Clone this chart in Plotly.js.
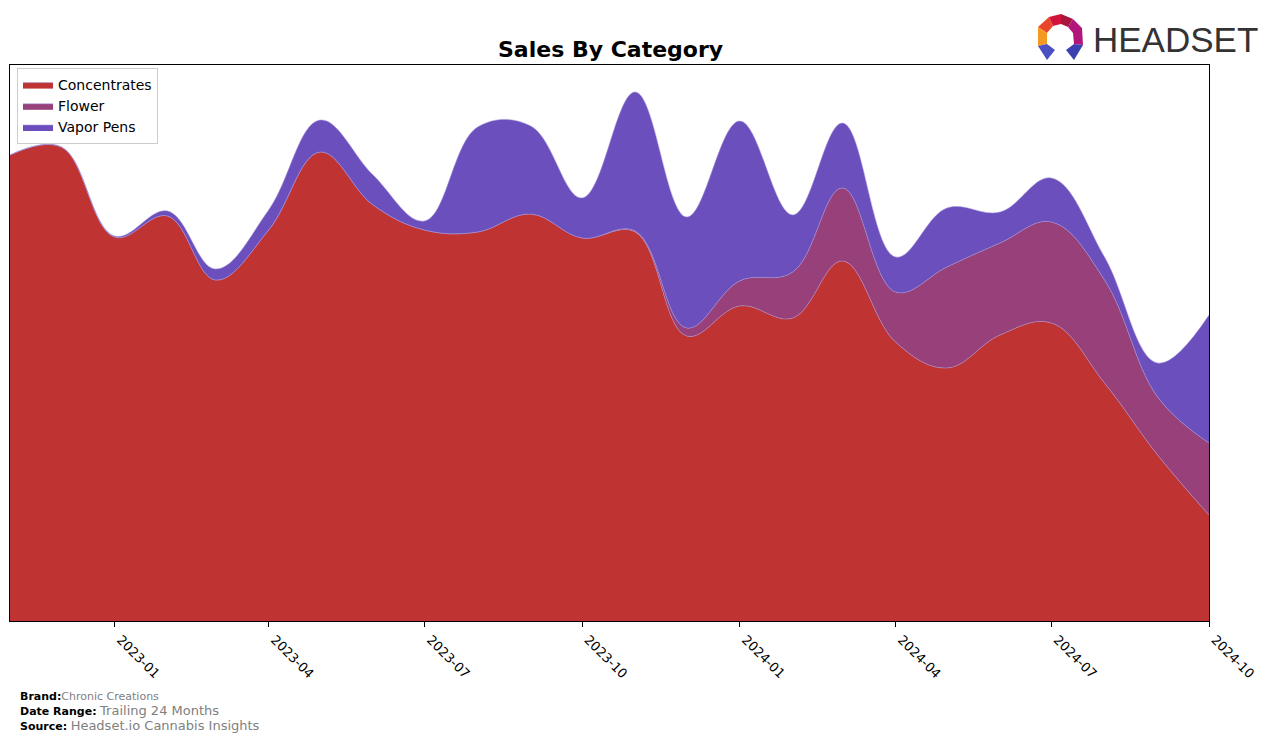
<!DOCTYPE html>
<html>
<head>
<meta charset="utf-8">
<script src="https://cdn.plot.ly/plotly-3.0.1.min.js"></script>
<style>html,body{margin:0;padding:0;background:#fff;}#chart{width:1276px;height:741px;}</style>
</head>
<body>
<div id="chart"></div>
<script>
// ---- data (arbitrary units) ----
const months = ["2022-11-01","2022-12-01","2023-01-01","2023-02-01","2023-03-01","2023-04-01",
  "2023-05-01","2023-06-01","2023-07-01","2023-08-01","2023-09-01","2023-10-01",
  "2023-11-01","2023-12-01","2024-01-01","2024-02-01","2024-03-01","2024-04-01",
  "2024-05-01","2024-06-01","2024-07-01","2024-08-01","2024-09-01","2024-10-01"];
const concentrates = [466,474,384,405,341,391,469,416,391,389,407,383,389,285,315,303,360,279,253,286,298,238,166,106];
const flower       = [0,0,0,0,0,0,0,0,0,0,0,0,1,8,25,46,73,50,101,92,101,103,58,72];
const vaporPens    = [0,0,1,5,11,20,32,30,9,105,88,40,139,111,160,57,65,35,59,31,44,23,34,128];
const tickVals = ["2023-01-01","2023-04-01","2023-07-01","2023-10-01","2024-01-01","2024-04-01","2024-07-01","2024-10-01"];
const tickText = ["2023-01","2023-04","2023-07","2023-10","2024-01","2024-04","2024-07","2024-10"];

// ---- layout helpers ----
const W = 1276, H = 741, L = 10, R = 1209, T = 65, B = 621;
const px = x => (x - L) / (R - L);
const py = y => (B - y) / (B - T);
function poly(points, color) {
  const d = points.map((p, i) => (i ? 'L' : 'M') + px(p[0]) + ',' + py(p[1])).join(' ') + ' Z';
  return {type: 'path', xref: 'paper', yref: 'paper', path: d, fillcolor: color, line: {width: 0}, layer: 'above'};
}

const colors = {c: '#c03333', f: '#974079', v: '#6a4fbd'};
const edge = {width: 0.6, color: 'rgba(170,150,220,0.9)', shape: 'spline', smoothing: 1.1};

const traces = [
  {x: months, y: concentrates, name: 'Concentrates', type: 'scatter', mode: 'lines', stackgroup: 'one',
   line: edge, fillcolor: colors.c},
  {x: months, y: flower, name: 'Flower', type: 'scatter', mode: 'lines', stackgroup: 'one',
   line: edge, fillcolor: colors.f},
  {x: months, y: vaporPens, name: 'Vapor Pens', type: 'scatter', mode: 'lines', stackgroup: 'one',
   line: edge, fillcolor: colors.v}
];

// logo icon
const shapes = [
  poly([[1038,27],[1049,17],[1053,26],[1047,33]], '#e8472a'),
  poly([[1038,27],[1047,33],[1047,44],[1038,46]], '#f39a22'),
  poly([[1049,17],[1061,14],[1061,24],[1053,26]], '#d2143a'),
  poly([[1061,14],[1073,19],[1068,27],[1061,24]], '#a8173f'),
  poly([[1073,19],[1082,28],[1083,45],[1074,44],[1073,33],[1068,27]], '#b3167b'),
  poly([[1038,46],[1047,44],[1055,50],[1047,60]], '#4a4fc4'),
  poly([[1074,44],[1083,45],[1074,60],[1066,50]], '#3b3fb0')
];

const grey = '#808080';
const annotations = [
  {text: '<b>Sales By Category</b>', xref: 'paper', yref: 'paper', x: px(610), y: py(50), xanchor: 'center', yanchor: 'middle',
   showarrow: false, font: {family: 'DejaVu Sans', size: 22, color: '#000'}},
  {text: 'HEADSET', xref: 'paper', yref: 'paper', x: px(1091), y: py(39), xanchor: 'left', yanchor: 'middle',
   showarrow: false, font: {family: 'Liberation Sans', size: 35, color: '#333333'}},
  {text: '<b>Brand:</b><span style="color:' + grey + ';font-size:11px">Chronic Creations</span>', xref: 'paper', yref: 'paper',
   x: px(18), y: py(696), xanchor: 'left', yanchor: 'middle', showarrow: false, font: {family: 'DejaVu Sans', size: 11, color: '#000'}},
  {text: '<b>Date Range:</b> <span style="color:' + grey + ';font-size:13px">Trailing 24 Months</span>', xref: 'paper', yref: 'paper',
   x: px(18), y: py(711), xanchor: 'left', yanchor: 'middle', showarrow: false, font: {family: 'DejaVu Sans', size: 11, color: '#000'}},
  {text: '<b>Source:</b> <span style="color:' + grey + ';font-size:13px">Headset.io Cannabis Insights</span>', xref: 'paper', yref: 'paper',
   x: px(18), y: py(725), xanchor: 'left', yanchor: 'middle', showarrow: false, font: {family: 'DejaVu Sans', size: 11, color: '#000'}}
];

const layout = {
  width: W, height: H,
  margin: {l: L, r: W - R, t: T, b: H - B, pad: 0},
  paper_bgcolor: '#fff', plot_bgcolor: '#fff',
  showlegend: true,
  legend: {x: px(17), y: py(68), xanchor: 'left', yanchor: 'top', traceorder: 'normal',
    bgcolor: 'rgba(255,255,255,0.85)', bordercolor: '#cccccc', borderwidth: 1,
    font: {family: 'DejaVu Sans', size: 14, color: '#000'}, itemwidth: 30, tracegroupgap: 0},
  xaxis: {type: 'date', range: [months[0], months[months.length - 1]], tickvals: tickVals, ticktext: tickText,
    tickangle: 45, ticks: 'outside', ticklen: 5, tickcolor: '#000', showgrid: false, zeroline: false,
    showline: true, mirror: true, linecolor: '#000', linewidth: 1, ticklabelshift: 6,
    tickfont: {family: 'DejaVu Sans', size: 13, color: '#000'}},
  yaxis: {range: [0, B - T], showticklabels: false, ticks: '', showgrid: false, zeroline: false,
    showline: true, mirror: true, linecolor: '#000', linewidth: 1},
  shapes: shapes,
  annotations: annotations
};

Plotly.newPlot('chart', traces, layout, {displayModeBar: false, staticPlot: true});
</script>
</body>
</html>
